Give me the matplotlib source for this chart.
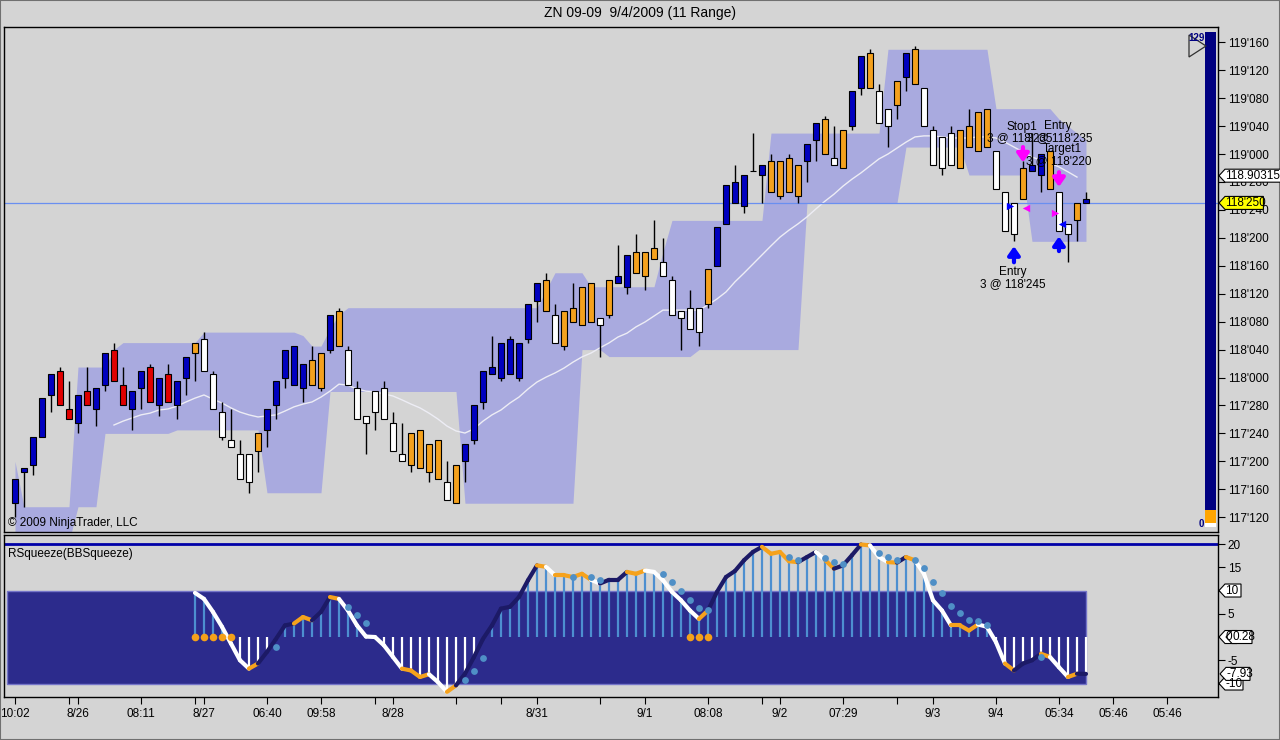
import numpy as np
import matplotlib
matplotlib.use('Agg')
import matplotlib.pyplot as plt
from matplotlib.patches import Polygon, Rectangle
from matplotlib.collections import LineCollection

plt.rcParams['font.family'] = ['Liberation Sans', 'DejaVu Sans']

# prices are in ZN ticks: 1/64ths of a point above 117'000
bar_col = ('b b b b b r r b r b  b r r b b r b r b b  o w w w w w w o b b  '
           'b b b o o b o w w w  w w w w o o o o w o  b b b b b b b b b o  '
           'w o o o o w o b b o  o o w w w w w o b b  b b b b o o o o b b  '
           'o w o b b o w w o b  o w w w w o o o o w  w w o b b o w w o b').split()
body_top = [35, 38, 47, 58, 65, 66, 55, 59, 60, 61, 71, 72, 62, 60, 66, 67, 64, 65, 63, 70,
            74, 75, 65, 54, 46, 42, 42, 48, 55, 63, 72, 73, 68, 69, 71, 82, 83, 72, 61, 53,
            60, 61, 51, 42, 48, 49, 45, 46, 34, 39, 45, 56, 66, 67, 74, 75, 74, 85, 91, 92,
            82, 83, 84, 90, 91, 81, 92, 93, 99, 100, 100, 101, 97, 92, 83, 84, 84, 95, 107, 119,
            120, 122, 123, 125, 126, 126, 127, 125, 131, 137, 138, 127, 135, 146, 156, 157, 146, 141, 149, 157,
            158, 147, 135, 133, 134, 135, 136, 140, 141, 129, 117, 114, 124, 125, 128, 129, 117, 108, 114, 115]
body_bot = [28, 37, 39, 47, 59, 56, 52, 51, 56, 55, 62, 63, 56, 55, 61, 57, 56, 57, 56, 64,
            71, 66, 55, 47, 44, 35, 34, 43, 49, 56, 64, 62, 61, 62, 61, 72, 73, 62, 52, 51,
            54, 52, 43, 40, 39, 38, 37, 35, 29, 28, 40, 46, 57, 65, 64, 65, 64, 75, 86, 83,
            74, 73, 80, 79, 80, 79, 82, 91, 90, 94, 93, 98, 93, 82, 81, 78, 77, 85, 96, 108,
            114, 113, 123, 122, 117, 116, 117, 116, 126, 132, 128, 125, 124, 136, 147, 147, 137, 136, 142, 150,
            148, 136, 125, 124, 125, 124, 130, 129, 130, 118, 106, 105, 115, 123, 122, 118, 106, 105, 109, 114]
bar_hi = [35, 38, 47, 58, 65, 67, 63, 59, 67, 61, 71, 74, 67, 60, 66, 68, 64, 68, 63, 70,
          74, 77, 66, 57, 55, 46, 42, 48, 55, 63, 72, 73, 68, 73, 71, 82, 84, 73, 63, 53,
          60, 63, 54, 51, 48, 49, 45, 46, 40, 39, 45, 56, 66, 76, 74, 76, 74, 85, 91, 94,
          85, 83, 91, 90, 91, 81, 92, 102, 99, 105, 100, 109, 104, 93, 83, 89, 84, 95, 107, 119,
          125, 122, 134, 125, 128, 126, 128, 125, 131, 137, 139, 136, 135, 146, 156, 158, 148, 141, 149, 157,
          159, 147, 136, 133, 136, 135, 141, 140, 141, 129, 117, 114, 126, 134, 128, 129, 117, 108, 114, 117]
bar_lo = [24, 27, 36, 47, 54, 56, 52, 48, 56, 50, 60, 63, 56, 49, 55, 57, 53, 57, 52, 59,
          63, 66, 55, 46, 44, 35, 31, 37, 44, 52, 61, 62, 57, 62, 60, 71, 73, 62, 52, 42,
          49, 52, 43, 40, 37, 38, 34, 35, 29, 28, 34, 45, 55, 65, 63, 65, 63, 74, 80, 83,
          74, 72, 80, 79, 80, 70, 81, 91, 88, 94, 89, 98, 93, 82, 72, 78, 73, 84, 96, 108,
          114, 111, 123, 114, 117, 115, 117, 114, 120, 126, 128, 125, 124, 135, 145, 147, 137, 130, 138, 146,
          148, 136, 125, 122, 125, 124, 130, 129, 130, 118, 106, 103, 115, 123, 117, 118, 106, 97, 103, 114]

band_hi = [40, 27, 27, 27, 27, 27, 27, 67, 67, 67, 67, 72, 74, 74, 74, 74, 74, 74, 74, 74,
           74, 77, 77, 77, 77, 77, 77, 77, 77, 77, 77, 77, 76, 73, 73, 78, 82, 84, 84, 84,
           84, 84, 84, 84, 84, 84, 84, 84, 84, 84, 84, 84, 84, 84, 84, 84, 84, 84, 84, 89,
           94, 94, 94, 94, 90, 90, 90, 90, 90, 90, 90, 90, 100, 109, 109, 109, 109, 109, 109, 109,
           109, 109, 109, 109, 134, 134, 134, 134, 134, 134, 134, 134, 134, 134, 134, 134, 134, 158, 158, 158,
           158, 158, 158, 158, 158, 158, 158, 158, 158, 141, 141, 141, 141, 141, 141, 141, 138, 136, 134, 132]
band_lo = [17, 17, 17, 17, 17, 17, 17, 27, 27, 27, 48, 48, 48, 48, 48, 48, 48, 48, 49, 49,
           49, 49, 49, 49, 49, 49, 49, 49, 31, 31, 31, 31, 31, 31, 31, 60, 60, 60, 60, 60,
           60, 60, 60, 60, 60, 60, 60, 60, 60, 60, 28, 28, 28, 28, 28, 28, 28, 28, 28, 28,
           28, 28, 28, 72, 72, 72, 70, 70, 70, 70, 70, 70, 70, 70, 70, 70, 72, 72, 72, 72,
           72, 72, 72, 72, 72, 72, 72, 72, 114, 114, 114, 114, 114, 114, 114, 114, 114, 114, 114, 130,
           130, 130, 130, 130, 130, 130, 122, 122, 122, 122, 122, 122, 122, 103, 103, 103, 103, 103, 103, 103]

sma_start = 11
sma = [50.4, 51.5, 52.4, 53.3, 53.8, 54.7, 55.0, 55.8, 57.0, 58.1,
       59.0, 57.8, 56.7, 55.3, 54.1, 53.3, 52.7, 53.0, 53.3, 54.4,
       55.6, 56.4, 57.0, 58.4, 60.1, 62.1, 61.8, 60.7, 60.1, 59.9,
       59.3, 58.7, 57.6, 56.4, 55.3, 53.8, 52.1, 50.1, 48.7, 48.1,
       49.3, 51.5, 53.3, 54.7, 56.7, 58.4, 60.7, 62.7, 64.1, 65.3,
       66.7, 68.4, 69.9, 71.0, 72.5, 73.9, 75.6, 76.7, 78.5, 79.9,
       81.6, 83.3, 83.3, 83.3, 83.3, 83.3, 84.8, 86.5, 88.5, 91.4,
       93.9, 96.5, 99.1, 101.7, 104.2, 106.2, 108.0, 110.0, 112.3, 114.5,
       116.5, 118.8, 120.8, 122.6, 124.6, 126.6, 128.0, 129.7, 131.4, 132.9,
       133.2, 133.2, 132.9, 132.6, 132.6, 132.6, 132.9, 132.9, 132.6, 131.4,
       130.0, 128.6, 127.1, 126.3, 125.4, 124.3, 122.9, 121.4]

last_tick = 114
sma_label = '118.903150'

# squeeze panel
sq_start = 20
sq_val = [9.5, 8.2, 5.4, 2.2, -1.4, -5.0, -6.8, -5.7, -3.2, -0.4,
          2.5, 2.9, 4.3, 3.6, 5.4, 8.6, 8.2, 5.7, 2.5, 0.1,
          0.0, -1.8, -4.3, -6.8, -7.2, -8.6, -8.0, -9.7, -11.8, -10.4,
          -7.9, -4.3, -0.4, 2.5, 6.1, 6.5, 8.6, 12.2, 15.4, 15.1,
          13.3, 13.3, 12.9, 13.6, 12.3, 11.5, 12.3, 12.3, 14.0, 13.6,
          14.3, 14.0, 12.2, 9.7, 7.9, 5.7, 3.9, 5.7, 9.7, 12.9,
          14.2, 16.5, 18.3, 19.4, 17.9, 18.3, 16.3, 16.1, 17.2, 18.3,
          16.6, 14.7, 15.4, 17.6, 19.9, 19.7, 17.2, 16.1, 16.0, 17.2,
          16.5, 13.6, 7.9, 5.7, 2.5, 2.5, 1.4, 2.7, 2.2, -1.1,
          -5.7, -7.2, -5.7, -5.0, -3.6, -4.3, -6.5, -8.6, -7.9, -7.93]
sq_seg = ('w w w w w w w o k k  k k o o k k o w w w  w w w w o o o w w o  '
          'k k k k k k k k k o  w o o o o w k k k o  o w w w w w w o k k  '
          'k k k k o o o o k k  w o k k k o w w o k  o w w w w o o o w w  '
          'w o k k k o w w o k').split()
dot_idx = [29, 37, 38, 39, 50, 51, 52, 62, 64, 65, 72, 73, 74, 75, 76, 77,
           86, 87, 90, 91, 92, 96, 97, 98, 100, 101, 102, 103, 104, 105, 106, 107, 108, 114]
dot_val = [-2.2, 6.5, 4.7, 3.0, -9.2, -7.3, -4.5, 12.9, 12.9, 12.2, 13.6, 11.8, 10.0, 7.9, 6.3, 5.9,
           17.2, 16.6, 17.1, 16.1, 15.8, 18.1, 17.2, 16.6, 16.5, 14.8, 11.8, 9.5, 6.6, 5.2, 3.7, 3.4, 2.5, -4.3]
squeeze_on = [20, 21, 22, 23, 24, 75, 76, 77]

tick_idx = [0, 6, 7, 14, 20, 21, 28, 34, 40, 42, 49, 54, 58, 65, 70, 77, 83, 85, 92, 98,
            102, 109, 116, 122, 128]
tick_lab = ['10:02', '', '8/26', '08:11', '', '8/27', '06:40', '09:58', '', '8/28', '', '', '8/31', '',
            '9/1', '08:08', '', '9/2', '07:29', '', '9/3', '9/4', '05:34', '05:46', '05:46']

W, H = 1280, 740
BG = '#d4d4d4'
CANDLE = {'b': '#0000c0', 'r': '#e00000', 'o': '#f4a11d', 'w': '#ffffff'}
SEG = {'w': '#ffffff', 'k': '#1c1a66', 'o': '#f6a21c'}


def price(t):
    return 117 + np.asarray(t, dtype=float) / 64.0


def fmt32(p, pos=None):
    whole = int(np.floor(p + 1e-9))
    n = int(round((p - whole) * 320))
    return f"{whole}'{n:03d}"


def fx(x):
    return x / W


def fy(y):
    return 1 - y / H


def tag(fig, ax, yval, text, fc='white', dx=1, w=None):
    xd, yd = ax.transData.transform((ax.get_xlim()[1], yval))
    x0 = xd + dx
    if w is None:
        w = 8 + 5.2 * len(text)
    h = 6.5
    verts = [(x0, yd), (x0 + 6, yd + h), (x0 + w, yd + h), (x0 + w, yd - h), (x0 + 6, yd - h)]
    verts = [(a / W, b / H) for a, b in verts]
    fig.add_artist(Polygon(verts, closed=True, fc=fc, ec='black', lw=0.8,
                           transform=fig.transFigure, zorder=10))
    fig.text((x0 + 6.5) / W, yd / H, text, va='center', ha='left', fontsize=8.5, zorder=11)


fig = plt.figure(figsize=(W / 100, H / 100), dpi=100, facecolor=BG)
fig.text(0.5, fy(13), 'ZN 09-09  9/4/2009 (11 Range)', ha='center', va='center', fontsize=10)

idx = np.arange(len(body_top))
xlim = (-1.22, 133.67)

# ---- price panel
ax = fig.add_axes([fx(4), fy(532), (1218 - 4) / W, (532 - 27) / H])
ax.set_facecolor(BG)
ax.set_xlim(*xlim)
ax.set_ylim(price(19.76), price(164.38))
ax.fill_between(np.arange(len(band_hi)), price(band_lo), price(band_hi), color='#a9aadf', lw=0, zorder=1)
ax.plot(np.arange(sma_start, sma_start + len(sma)), price(sma), color='#ededf5', lw=1, zorder=2)
ax.axhline(price(last_tick), color='#6a8ff0', lw=0.9, zorder=2)

ax.vlines(idx, price(bar_lo), price(bar_hi), color='black', lw=1, zorder=3)
ax.bar(idx, price(body_top) - price(body_bot), bottom=price(body_bot), width=0.66,
       color=[CANDLE[c] for c in bar_col], edgecolor='black', linewidth=0.8, zorder=4)

ax.yaxis.tick_right()
ax.set_yticks(price(np.arange(24, 161, 8)))
ax.yaxis.set_major_formatter(fmt32)
ax.tick_params(axis='y', labelsize=8.5, length=5, pad=2)
ax.set_xticks([])
for s in ax.spines.values():
    s.set_color('black')
    s.set_linewidth(1)

ax.text(0.003, 0.005, '\u00a9 2009 NinjaTrader, LLC', transform=ax.transAxes, fontsize=8.5,
        ha='left', va='bottom')

# trades
fill_x = [110.6, 112.3, 115.6, 116.3]
fill_t = [113, 112.5, 111, 108]
fill_m = ['>', '<', '>', '<']
fill_c = ['#0000ff', '#ff00ff', '#ff00ff', '#0000ff']
for x, t, m, c in zip(fill_x, fill_t, fill_m, fill_c):
    ax.scatter([x], [price(t)], marker=m, s=28, color=c, zorder=6, linewidths=0)
for i, t0, t1, c in [(111, 97.0, 101.6, '#0000ff'), (116, 100.2, 104.4, '#0000ff'),
                     (112, 130.0, 125.6, '#ff00ff'), (116, 122.8, 118.6, '#ff00ff')]:
    ax.annotate('', xy=(i, price(t1)), xytext=(i, price(t0)),
                arrowprops=dict(arrowstyle='-|>,head_width=0.35,head_length=0.5', color=c, lw=3,
                                shrinkA=0, shrinkB=0), zorder=6)
for px, py, s in [(1022, 127, 'Stop1'), (1020, 138, "3 @ 118'235"), (1058, 126, 'Entry'),
                  (1060, 138, "3 @ 118'235"), (1062, 149, 'Target1'), (1059, 161, "3 @ 118'220"),
                  (1013, 272, 'Entry'), (1013, 284, "3 @ 118'245")]:
    fig.text(fx(px), fy(py), s, ha='center', va='center', fontsize=8.5, zorder=12)

# pressure gauge at right edge of the price panel
fig.add_artist(Rectangle((fx(1205), fy(510)), 11 / W, (510 - 32) / H, fc='#000080', ec='none', zorder=5))
fig.add_artist(Rectangle((fx(1205), fy(523)), 11 / W, 13 / H, fc='#ffa500', ec='none', zorder=5))
fig.add_artist(Rectangle((fx(1205), fy(527)), 11 / W, 4 / H, fc='white', ec='none', zorder=5))
fig.add_artist(Polygon([(fx(1189), fy(35)), (fx(1189), fy(57)), (fx(1206), fy(46))], closed=True,
                       fill=False, ec='#303030', lw=0.9, zorder=6))
fig.text(fx(1197), fy(38), '129', ha='center', va='center', fontsize=7, color='#000080',
         weight='bold', zorder=7)
fig.text(fx(1201), fy(524), '0', ha='center', va='center', fontsize=7, color='#000080',
         weight='bold', zorder=7)

tag(fig, ax, price(121.8), sma_label, fc='white', w=64)
tag(fig, ax, price(last_tick), fmt32(price(last_tick)), fc='#ffff00')

# ---- squeeze panel
ax2 = fig.add_axes([fx(4), fy(697), (1218 - 4) / W, (697 - 535) / H])
ax2.set_facecolor(BG)
ax2.set_xlim(*xlim)
ax2.set_ylim(-12.9, 21.94)
ax2.add_patch(Rectangle((-0.9, -10), 119.9, 20, fc='#2c2b8c', ec='#7474c8', lw=1, zorder=1))
ax2.axhline(20, color='#0000a8', lw=2, zorder=2)

sq_x = np.arange(sq_start, sq_start + len(sq_val))
sq_v = np.array(sq_val)
ax2.vlines(sq_x, 0, sq_v, colors=['#4d8fd0' if v > 0 else '#ffffff' for v in sq_v], lw=1.6, zorder=2)
segs = [[(sq_x[k - 1], sq_v[k - 1]), (sq_x[k], sq_v[k])] for k in range(1, len(sq_v))]
ax2.add_collection(LineCollection(segs, colors=[SEG[c] for c in sq_seg[1:]], linewidths=3,
                                  capstyle='round', zorder=3))
ax2.scatter(dot_idx, dot_val, s=24, color='#4f8fc6', zorder=4, linewidths=0)
ax2.scatter(squeeze_on, [0] * len(squeeze_on), s=30, color='#f5a11a', zorder=4, linewidths=0)

ax2.text(0.003, 0.92, 'RSqueeze(BBSqueeze)', transform=ax2.transAxes, fontsize=8.5, ha='left', va='top')

ax2.yaxis.tick_right()
ax2.set_yticks([20, 15, 10, 5, 0, -5, -10])
ax2.set_yticklabels(['20', '15', '', '5', '', '-5', ''])
ax2.tick_params(axis='y', labelsize=8.5, length=5, pad=2)
ax2.set_xticks(tick_idx)
ax2.set_xticklabels(tick_lab)
ax2.tick_params(axis='x', labelsize=8.5, length=5, pad=3)
for s in ax2.spines.values():
    s.set_color('black')
    s.set_linewidth(1)

tag(fig, ax2, 10, '10', w=22)
tag(fig, ax2, 0, '0', w=18)
tag(fig, ax2, 0, '0.28', dx=8, w=26)
tag(fig, ax2, -10, '-10', w=24)
tag(fig, ax2, -7.93, '-7.93', dx=2, w=30)

fig.add_artist(Rectangle((0, 0), 1, 1, transform=fig.transFigure, fill=False, ec='#707070', lw=1.5))

fig.savefig('out.png', dpi=100, facecolor=BG)
